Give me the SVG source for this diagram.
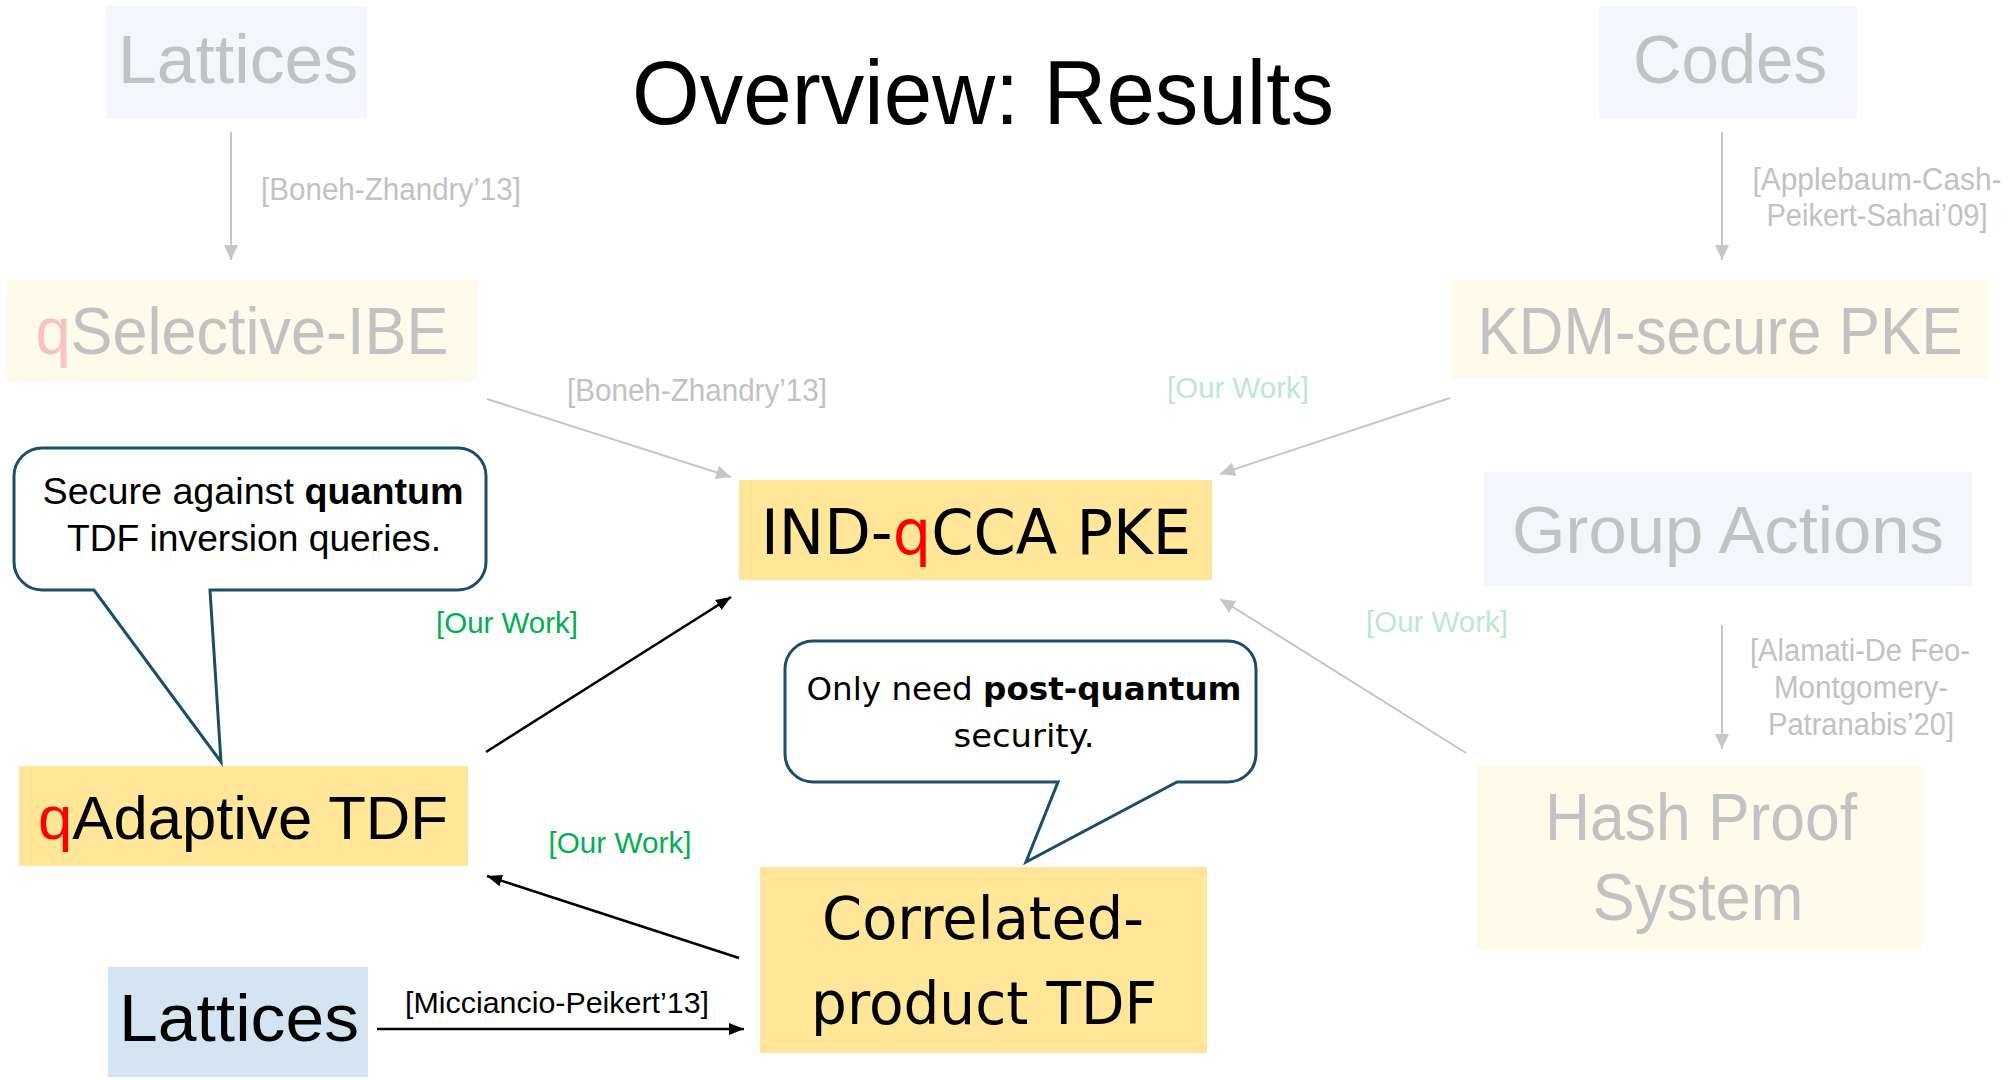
<svg xmlns="http://www.w3.org/2000/svg" width="2011" height="1080" viewBox="0 0 2011 1080">
<style>
.sans{font-family:"Liberation Sans",Arial,sans-serif}
.dv{font-family:"DejaVu Sans",Verdana,sans-serif}
.faded{fill:#c2c2c2}
.fq{fill:#f6c2c2}
.fgreen{fill:#bfe6d1}
.green{fill:#00b050}
.red{fill:#ff0000}
.blk{fill:#000000}
.fbox-b{fill:#f3f7fb}
.fbox-y{fill:#fefbea}
.box-y{fill:#ffe699}
.box-b{fill:#d5e4f3}
.gline{stroke:#c6c6c6;stroke-width:2;fill:none}
.bline{stroke:#000000;stroke-width:2.5;fill:none}
.callout{fill:#ffffff;stroke:#1a4e6a;stroke-width:3;stroke-linejoin:miter}
</style>
<defs>
<marker id="ag" markerUnits="userSpaceOnUse" markerWidth="16" markerHeight="14" refX="15" refY="7" orient="auto"><path d="M0,0 L15,7 L0,14 z" fill="#c6c6c6"/></marker>
<marker id="ab" markerUnits="userSpaceOnUse" markerWidth="16" markerHeight="14" refX="15" refY="7" orient="auto"><path d="M0,1 L15,7 L0,13 z" fill="#000000"/></marker>
</defs>
<rect width="2011" height="1080" fill="#ffffff"/>

<text class="sans blk" x="983" y="124" font-size="91" text-anchor="middle" textLength="702" lengthAdjust="spacingAndGlyphs">Overview: Results</text>

<g id="connectors">
<line class="gline" x1="231" y1="132" x2="231" y2="260" marker-end="url(#ag)"/>
<line class="gline" x1="1722" y1="132" x2="1722" y2="260" marker-end="url(#ag)"/>
<line class="gline" x1="487" y1="399" x2="731" y2="477" marker-end="url(#ag)"/>
<line class="gline" x1="1450" y1="398" x2="1220" y2="474" marker-end="url(#ag)"/>
<line class="gline" x1="1466" y1="753" x2="1220" y2="599" marker-end="url(#ag)"/>
<line class="gline" x1="1722" y1="625" x2="1722" y2="749" marker-end="url(#ag)"/>
<line class="bline" x1="486" y1="752" x2="731" y2="597" marker-end="url(#ab)"/>
<line class="bline" x1="739" y1="958" x2="487" y2="876" marker-end="url(#ab)"/>
<line class="bline" x1="377" y1="1029" x2="744" y2="1029" marker-end="url(#ab)"/>
<text class="sans faded" x="391" y="200" font-size="31" text-anchor="middle" textLength="260" lengthAdjust="spacingAndGlyphs">[Boneh-Zhandry’13]</text>
<text class="sans faded" x="1877" y="190" font-size="31" text-anchor="middle" textLength="249" lengthAdjust="spacingAndGlyphs">[Applebaum-Cash-</text>
<text class="sans faded" x="1877" y="226" font-size="31" text-anchor="middle" textLength="221" lengthAdjust="spacingAndGlyphs">Peikert-Sahai’09]</text>
<text class="sans faded" x="697" y="401" font-size="31" text-anchor="middle" textLength="260" lengthAdjust="spacingAndGlyphs">[Boneh-Zhandry’13]</text>
<text class="sans fgreen" x="1238" y="398" font-size="30" text-anchor="middle" textLength="142" lengthAdjust="spacingAndGlyphs">[Our Work]</text>
<text class="sans green" x="507" y="633" font-size="30" text-anchor="middle" textLength="142" lengthAdjust="spacingAndGlyphs">[Our Work]</text>
<text class="sans fgreen" x="1437" y="632" font-size="30" text-anchor="middle" textLength="142" lengthAdjust="spacingAndGlyphs">[Our Work]</text>
<text class="sans faded" x="1860" y="661" font-size="31" text-anchor="middle" textLength="220" lengthAdjust="spacingAndGlyphs">[Alamati-De Feo-</text>
<text class="sans faded" x="1861" y="698" font-size="31" text-anchor="middle" textLength="174" lengthAdjust="spacingAndGlyphs">Montgomery-</text>
<text class="sans faded" x="1861" y="735" font-size="31" text-anchor="middle" textLength="186" lengthAdjust="spacingAndGlyphs">Patranabis’20]</text>
<text class="sans green" x="620" y="853" font-size="30" text-anchor="middle" textLength="143" lengthAdjust="spacingAndGlyphs">[Our Work]</text>
<text class="sans blk" x="557" y="1013" font-size="29" text-anchor="middle" textLength="304" lengthAdjust="spacingAndGlyphs">[Micciancio-Peikert’13]</text>
</g>

<g id="node-lattices-top">
<rect class="fbox-b" x="106" y="6" width="261" height="112"/>
<text class="sans faded" x="238" y="83" font-size="69" text-anchor="middle" textLength="240" lengthAdjust="spacingAndGlyphs">Lattices</text>
</g>

<g id="node-codes">
<rect class="fbox-b" x="1599" y="6" width="258" height="112"/>
<text class="sans faded" x="1730" y="83" font-size="69" text-anchor="middle" textLength="194" lengthAdjust="spacingAndGlyphs">Codes</text>
</g>

<g id="node-qselective-ibe">
<rect class="fbox-y" x="6" y="280" width="471" height="101"/>
<text class="sans faded" x="242" y="354" font-size="66" text-anchor="middle" textLength="413" lengthAdjust="spacingAndGlyphs"><tspan class="fq">q</tspan>Selective-IBE</text>
</g>

<g id="node-kdm-pke">
<rect class="fbox-y" x="1452" y="280" width="536" height="98"/>
<text class="sans faded" x="1720" y="354" font-size="66" text-anchor="middle" textLength="485" lengthAdjust="spacingAndGlyphs">KDM-secure PKE</text>
</g>

<g id="node-ind-qcca-pke">
<rect class="box-y" x="739" y="480" width="473" height="100"/>
<text class="dv blk" x="976" y="554" font-size="62" text-anchor="middle" textLength="430" lengthAdjust="spacingAndGlyphs">IND-<tspan class="red">q</tspan>CCA PKE</text>
</g>

<g id="node-group-actions">
<rect class="fbox-b" x="1484" y="472" width="488" height="114"/>
<text class="sans faded" x="1728" y="553" font-size="66" text-anchor="middle" textLength="432" lengthAdjust="spacingAndGlyphs">Group Actions</text>
</g>

<g id="node-hash-proof">
<rect class="fbox-y" x="1476" y="766" width="446" height="184"/>
<text class="sans faded" x="1701" y="840" font-size="66" text-anchor="middle" textLength="312" lengthAdjust="spacingAndGlyphs">Hash Proof</text>
<text class="sans faded" x="1698" y="920" font-size="66" text-anchor="middle" textLength="211" lengthAdjust="spacingAndGlyphs">System</text>
</g>

<g id="node-qadaptive-tdf">
<rect class="box-y" x="19" y="766" width="449" height="100"/>
<text class="sans blk" x="243" y="839" font-size="62" text-anchor="middle" textLength="410" lengthAdjust="spacingAndGlyphs"><tspan class="red">q</tspan>Adaptive TDF</text>
</g>

<g id="node-correlated-product-tdf">
<rect class="box-y" x="760" y="867" width="447" height="186"/>
<text class="dv blk" x="983" y="939" font-size="59" text-anchor="middle" textLength="322" lengthAdjust="spacingAndGlyphs">Correlated-</text>
<text class="dv blk" x="984" y="1024" font-size="59" text-anchor="middle" textLength="346" lengthAdjust="spacingAndGlyphs">product TDF</text>
</g>

<g id="node-lattices-bottom">
<rect class="box-b" x="108" y="967" width="260" height="110"/>
<text class="sans blk" x="239" y="1041" font-size="66" text-anchor="middle" textLength="240" lengthAdjust="spacingAndGlyphs">Lattices</text>
</g>

<g id="callout-quantum">
<path class="callout" d="M42,448 H458 A28,28 0 0 1 486,476 V562 A28,28 0 0 1 458,590 H210 L221,762 L94,590 H42 A28,28 0 0 1 14,562 V476 A28,28 0 0 1 42,448 Z"/>
<text class="sans blk" x="253" y="504" font-size="37" text-anchor="middle" textLength="421" lengthAdjust="spacingAndGlyphs">Secure against <tspan font-weight="bold">quantum</tspan></text>
<text class="sans blk" x="254" y="551" font-size="37" text-anchor="middle" textLength="374" lengthAdjust="spacingAndGlyphs">TDF inversion queries.</text>
</g>

<g id="callout-post-quantum">
<path class="callout" d="M813,641 H1228 A28,28 0 0 1 1256,669 V754 A28,28 0 0 1 1228,782 H1177 L1026,862 L1058,782 H813 A28,28 0 0 1 785,754 V669 A28,28 0 0 1 813,641 Z"/>
<text class="dv blk" x="1024" y="700" font-size="32" text-anchor="middle" textLength="435" lengthAdjust="spacingAndGlyphs">Only need <tspan font-weight="bold">post-quantum</tspan></text>
<text class="dv blk" x="1024" y="747" font-size="32" text-anchor="middle" textLength="141" lengthAdjust="spacingAndGlyphs">security.</text>
</g>
</svg>
